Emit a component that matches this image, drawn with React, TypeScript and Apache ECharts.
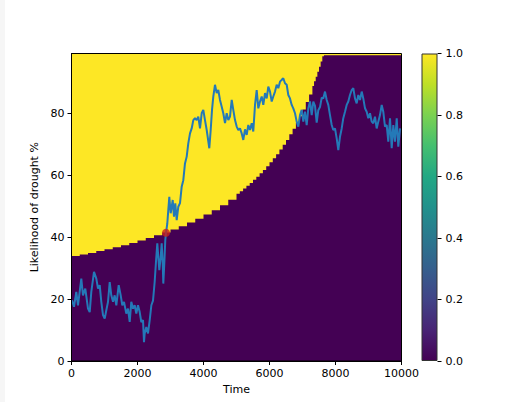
import { useEffect, useRef } from "react";
import * as echarts from "echarts";

const FONT = "DejaVu Sans";

const timeRange = [0, 10000];
const likelihoodRange = [0, 99.3];
const likelihoodTicks = [0, 20, 40, 60, 80];
const colorbarRange = [0, 1];

// Boundary between the "drought" (yellow, 1) and "no drought" (purple, 0) regions
const boundaryTime = [
  0, 250, 500, 750, 1000, 1250, 1500, 1750, 2000, 2250,
  2500, 2750, 3000, 3250, 3500, 3750, 4000, 4250, 4500, 4750,
  5000, 5100, 5200, 5300, 5400, 5500, 5600, 5700, 5800, 5900,
  6000, 6100, 6200, 6300, 6400, 6500, 6600, 6700, 6800, 6900,
  7000, 7100, 7200, 7300, 7350, 7400, 7450, 7500, 7550, 7600,
  7650, 10000,
];
const boundaryValue = [
  33.9, 34.4, 34.9, 35.5, 36.1, 36.7, 37.4, 38.1, 38.9, 39.7,
  40.6, 41.5, 42.5, 43.5, 44.7, 45.9, 47.3, 48.7, 50.3, 52.1,
  54.0, 54.8, 55.7, 56.6, 57.5, 58.5, 59.5, 60.6, 61.7, 62.9,
  64.2, 65.5, 66.8, 68.3, 69.8, 71.4, 73.2, 75.0, 76.9, 79.0,
  81.2, 83.6, 86.1, 88.8, 90.3, 91.8, 93.4, 95.0, 96.7, 98.4,
  98.7, 98.7,
];

// Random-walk trajectory
const walkTime = [
  15, 76, 145, 197, 297, 348, 418, 500, 552, 600,
  682, 752, 803, 855, 903, 955, 1006, 1055, 1106, 1158,
  1206, 1258, 1309, 1358, 1430, 1491, 1539, 1591, 1661, 1712,
  1764, 1812, 1864, 1915, 1964, 2015, 2067, 2115, 2167, 2197,
  2218, 2267, 2318, 2370, 2420, 2470, 2520, 2560, 2600, 2630,
  2661, 2703, 2733, 2764, 2782, 2812, 2842, 2864, 2903, 2933,
  2964, 3006, 3036, 3067, 3106, 3145, 3188, 3236, 3288, 3339,
  3388, 3439, 3491, 3539, 3591, 3642, 3691, 3742, 3794, 3842,
  3894, 3945, 3994, 4045, 4097, 4176, 4218, 4258, 4297, 4348,
  4400, 4448, 4500, 4552, 4600, 4652, 4703, 4752, 4803, 4855,
  4903, 4955, 5006, 5055, 5106, 5158, 5206, 5258, 5309, 5358,
  5409, 5461, 5509, 5561, 5612, 5661, 5712, 5764, 5812, 5864,
  5915, 5964, 6015, 6067, 6115, 6167, 6218, 6267, 6318, 6370,
  6418, 6470, 6521, 6570, 6621, 6673, 6721, 6773, 6824, 6873,
  6924, 6976, 7024, 7076, 7127, 7176, 7227, 7279, 7327, 7379,
  7430, 7479, 7530, 7582, 7630, 7682, 7733, 7782, 7833, 7885,
  7933, 7985, 8036, 8085, 8136, 8188, 8236, 8288, 8339, 8388,
  8439, 8491, 8539, 8591, 8642, 8691, 8742, 8794, 8842, 8894,
  8945, 8994, 9045, 9097, 9145, 9197, 9248, 9297, 9348, 9400,
  9448, 9500, 9552, 9600, 9652, 9703, 9752, 9803, 9855, 9903,
  9955,
];
const walkValue = [
  19.6, 17.5, 22.3, 18.0, 26.6, 21.2, 23.4, 16.9, 15.8, 22.3,
  28.8, 26.6, 23.4, 24.5, 19.1, 14.8, 13.7, 16.4, 19.1, 25.5,
  21.2, 19.1, 21.2, 18.0, 24.5, 21.2, 18.0, 19.1, 15.3, 16.9,
  12.6, 19.1, 16.9, 18.0, 15.3, 18.0, 15.8, 12.6, 13.2, 6.1,
  8.9, 11.0, 8.9, 13.2, 18.0, 19.5, 25.5, 32.0, 38.0, 33.6,
  29.3, 33.6, 38.0, 31.5, 25.0, 31.5, 39.0, 41.4, 44.4, 48.7,
  53.0, 47.7, 49.8, 52.0, 46.6, 50.9, 45.5, 49.8, 51.0, 56.3,
  58.4, 63.8, 66.0, 70.3, 73.5, 75.1, 77.8, 78.4, 77.8, 78.9,
  75.1, 80.0, 81.1, 77.8, 74.6, 68.7, 74.6, 81.1, 85.4, 89.2,
  86.5, 87.5, 84.3, 82.1, 80.0, 76.8, 80.0, 77.8, 78.9, 84.3,
  81.1, 77.8, 75.7, 74.6, 75.1, 73.5, 71.4, 74.8, 73.0, 76.2,
  74.6, 76.8, 74.1, 82.7, 87.5, 81.6, 83.8, 85.4, 82.7, 86.5,
  84.8, 88.6, 87.0, 83.8, 85.4, 87.0, 89.2, 88.1, 90.2, 90.8,
  91.3, 89.7, 89.2, 85.9, 84.8, 82.7, 81.6, 80.0, 77.3, 75.7,
  79.4, 81.1, 77.3, 80.5, 76.2, 81.6, 83.8, 79.4, 83.8, 82.4,
  77.0, 81.0, 82.0, 85.0, 84.8, 87.0, 84.3, 82.7, 79.4, 76.2,
  74.6, 75.1, 71.9, 68.1, 72.4, 75.1, 78.4, 80.5, 82.7, 83.8,
  85.9, 87.5, 88.1, 84.8, 83.2, 85.9, 84.3, 87.0, 84.8, 81.6,
  80.5, 78.4, 80.0, 77.3, 76.8, 78.9, 75.1, 77.3, 79.4, 82.7,
  80.5, 75.7, 76.2, 70.8, 78.4, 68.7, 76.2, 70.8, 78.4, 69.2,
  75.1,
];

// First crossing of trajectory into the drought region
const crossingTime = [2864];
const crossingValue = [41.4];

const VIRIDIS = [
  "#440154", "#482475", "#414487", "#355f8d", "#2a788e", "#21918c",
  "#22a884", "#44bf70", "#7ad151", "#bddf26", "#fde725",
];

export default function App() {
  const ref = useRef<HTMLDivElement>(null);

  useEffect(() => {
    const chart = echarts.init(ref.current!, null, { renderer: "svg" });

    const G = { left: 71.5, top: 53.5, width: 330, height: 307.5 };
    const CB = { left: 421.5, top: 53.5, width: 16, height: 307.5 };

    const axisText = { fontFamily: FONT, fontSize: 11, color: "#000" };

    const option: any = {
      animation: false,
      backgroundColor: "#ffffff",
      grid: [
        { ...G, show: true, backgroundColor: VIRIDIS[VIRIDIS.length - 1], borderWidth: 0 },
        { ...CB },
      ],
      xAxis: [
        {
          gridIndex: 0,
          type: "value",
          min: timeRange[0],
          max: timeRange[1],
          interval: 2000,
          name: "Time",
          nameLocation: "middle",
          nameGap: 23,
          nameTextStyle: { ...axisText },
          axisLine: { show: true, onZero: false, lineStyle: { color: "#000", width: 1 } },
          axisTick: { show: true, inside: false, length: 4, lineStyle: { color: "#000" } },
          axisLabel: { ...axisText, margin: 7, formatter: (v: number) => String(v) },
          splitLine: { show: false },
        },
        {
          gridIndex: 1,
          type: "category",
          data: [""],
          show: false,
        },
      ],
      yAxis: [
        {
          gridIndex: 0,
          type: "value",
          min: likelihoodRange[0],
          max: likelihoodRange[1],
          name: "Likelihood of drought %",
          nameLocation: "middle",
          nameGap: 29,
          nameTextStyle: { ...axisText },
          axisLine: { show: true, onZero: false, lineStyle: { color: "#000", width: 1 } },
          axisTick: {
            show: true,
            inside: false,
            length: 4,
            customValues: likelihoodTicks,
            lineStyle: { color: "#000" },
          },
          axisLabel: {
            ...axisText,
            margin: 7,
            customValues: likelihoodTicks,
            formatter: (v: number) => String(v),
          },
          splitLine: { show: false },
        },
        {
          gridIndex: 1,
          type: "value",
          position: "right",
          min: colorbarRange[0],
          max: colorbarRange[1],
          interval: 0.2,
          axisLine: { show: false },
          axisTick: { show: true, inside: false, length: 4, lineStyle: { color: "#000" } },
          axisLabel: {
            ...axisText,
            margin: 8,
            formatter: (v: number) => v.toFixed(1),
          },
          splitLine: { show: false },
        },
      ],
      series: [
        {
          type: "line",
          xAxisIndex: 0,
          yAxisIndex: 0,
          step: "end",
          symbol: "none",
          data: boundaryTime.map((t, i) => [t, boundaryValue[i]]),
          lineStyle: { width: 0, color: VIRIDIS[0] },
          areaStyle: { color: VIRIDIS[0], opacity: 1, origin: "start" },
          z: 1,
        },
        {
          type: "line",
          xAxisIndex: 0,
          yAxisIndex: 0,
          symbol: "none",
          data: walkTime.map((t, i) => [t, walkValue[i]]),
          lineStyle: { width: 2, color: "#2479b8" },
          z: 3,
        },
        {
          type: "scatter",
          xAxisIndex: 0,
          yAxisIndex: 0,
          symbolSize: 8,
          data: crossingTime.map((t, i) => [t, crossingValue[i]]),
          itemStyle: { color: "#c8201e" },
          z: 4,
        },
        {
          type: "bar",
          xAxisIndex: 1,
          yAxisIndex: 1,
          barWidth: "100%",
          data: [colorbarRange[1]],
          itemStyle: {
            color: new echarts.graphic.LinearGradient(
              0, 1, 0, 0,
              VIRIDIS.map((c, i) => ({ offset: i / (VIRIDIS.length - 1), color: c }))
            ),
            borderColor: "#333",
            borderWidth: 1,
          },
        },
      ],
      graphic: [
        {
          type: "rect",
          z: 100,
          silent: true,
          shape: { x: G.left, y: G.top, width: G.width, height: G.height },
          style: { fill: "none", stroke: "#000", lineWidth: 1 },
        },
        {
          type: "rect",
          z: 0,
          silent: true,
          shape: { x: 0, y: 0, width: 5, height: 402 },
          style: { fill: "#f6f6f6" },
        },
      ],
    };

    chart.setOption(option);
    return () => chart.dispose();
  }, []);

  return (
    <div
      ref={ref}
      style={{ position: "fixed", left: 0, top: 0, width: 532, height: 402, background: "#fff" }}
    />
  );
}
